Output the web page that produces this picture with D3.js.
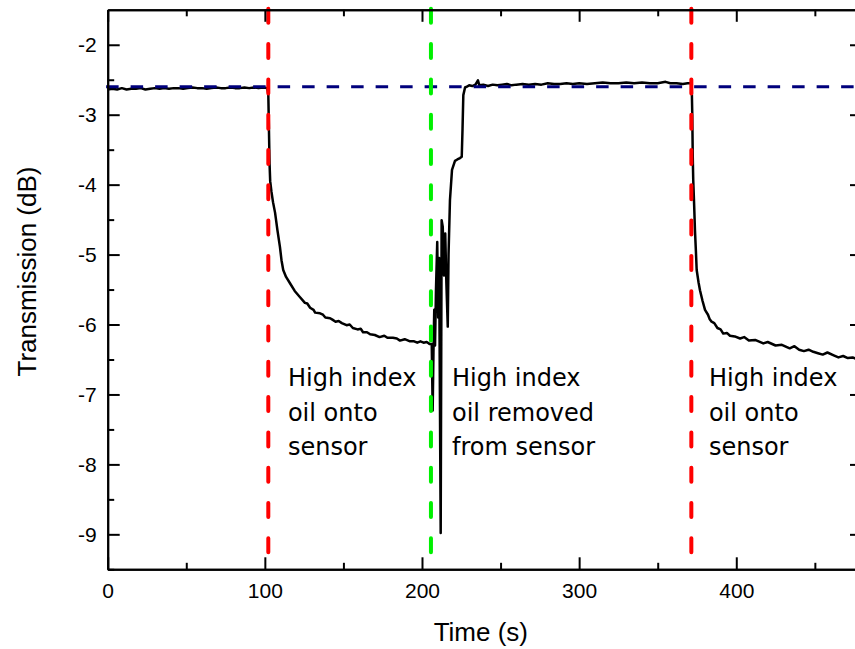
<!DOCTYPE html>
<html>
<head>
<meta charset="utf-8">
<script src="https://cdn.jsdelivr.net/npm/d3@7/dist/d3.min.js"></script>
<style>
  html, body { margin: 0; padding: 0; background: #fff; }
  svg { display: block; overflow: hidden; }
  .tick text { font-family: "Liberation Sans", Arial, sans-serif; font-size: 21px; fill: #000; }
</style>
</head>
<body>
<svg id="chart" width="855" height="649"></svg>
<script>
// Transmission trace (time in s, transmission in dB)
const timeS = [
  0, 3, 6, 9, 12, 15, 18, 21, 24, 27, 30, 33, 36, 39, 42, 45, 48, 51, 54, 57, 60, 63, 66, 69, 72, 75, 78, 81, 84, 87, 90, 93, 96, 99, 101.5,
  102.2, 102.6, 103.0, 103.4, 104.2, 105.2, 106.5, 108.0, 109.6, 110.6, 111.7, 113.5, 116, 119, 122.4, 125.5, 127, 128.8, 131, 132, 135.1, 137, 138.5, 141.5, 143, 145, 147, 149, 152, 154, 156, 159, 161, 162.5, 165, 167, 170, 173, 176, 178, 181.5, 184, 186, 189, 192.4, 195, 197, 199, 201, 203, 205, 206.2,
  206.8, 207.3, 207.8, 208.3, 208.9, 209.7, 210.3, 210.9, 211.9, 212.5, 213.2, 214.0, 214.8, 215.5, 216.4, 216.9, 217.8, 219.1, 221.0, 222.5, 224.2, 225.3, 225.8, 226.3, 227.4,
  228.5, 230, 232, 234, 235.6, 236.5, 239, 242, 245, 248, 251, 254, 257, 260, 264, 268, 272, 276, 280, 284, 288, 292, 296, 300, 305, 310, 315, 320, 325, 330, 335, 340, 345, 350, 355, 358, 362, 366, 369, 371.6,
  372.0, 372.3, 372.6, 373.2, 373.7, 374.3, 374.8, 376, 376.9, 378.5, 380.1, 382, 383, 384.3, 386, 388, 390, 391.7, 394, 396, 399, 402.4, 405, 408, 412, 417.2, 420, 425, 429, 434, 437, 440, 443, 446, 449, 452, 455, 458, 462, 465, 468, 471, 474, 477, 480
];
const transDb = [
  -2.64, -2.63, -2.64, -2.62, -2.64, -2.63, -2.63, -2.62, -2.64, -2.63, -2.62, -2.63, -2.62, -2.63, -2.62, -2.62, -2.63, -2.62, -2.61, -2.62, -2.62, -2.63, -2.62, -2.61, -2.62, -2.62, -2.61, -2.62, -2.62, -2.61, -2.62, -2.61, -2.62, -2.61, -2.62,
  -2.70, -3.20, -3.70, -3.95, -4.10, -4.25, -4.40, -4.65, -4.89, -5.08, -5.22, -5.32, -5.41, -5.52, -5.61, -5.69, -5.70, -5.76, -5.79, -5.83, -5.84, -5.86, -5.90, -5.91, -5.93, -5.96, -5.95, -5.98, -6.01, -6.00, -6.05, -6.07, -6.06, -6.11, -6.11, -6.14, -6.15, -6.18, -6.16, -6.19, -6.19, -6.20, -6.23, -6.21, -6.24, -6.24, -6.26, -6.24, -6.26, -6.25, -6.28, -6.28,
  -7.23, -6.40, -5.79, -6.30, -5.50, -4.82, -5.90, -5.05, -8.98, -4.51, -4.60, -5.30, -4.70, -5.40, -6.03, -5.00, -4.22, -3.79, -3.66, -3.64, -3.62, -3.60, -3.20, -2.72, -2.61,
  -2.60, -2.58, -2.59, -2.57, -2.51, -2.58, -2.57, -2.59, -2.57, -2.58, -2.57, -2.56, -2.58, -2.57, -2.56, -2.57, -2.56, -2.57, -2.55, -2.56, -2.56, -2.55, -2.56, -2.55, -2.56, -2.55, -2.54, -2.55, -2.55, -2.54, -2.55, -2.54, -2.55, -2.55, -2.53, -2.55, -2.55, -2.56, -2.55, -2.55,
  -3.00, -3.60, -3.93, -4.30, -4.65, -4.95, -5.22, -5.40, -5.51, -5.66, -5.79, -5.86, -5.92, -5.96, -5.98, -6.05, -6.07, -6.13, -6.12, -6.16, -6.17, -6.20, -6.18, -6.23, -6.22, -6.27, -6.25, -6.30, -6.29, -6.34, -6.31, -6.36, -6.38, -6.36, -6.39, -6.41, -6.43, -6.40, -6.44, -6.47, -6.45, -6.48, -6.47, -6.50, -6.49
];

// Event markers (s) and reference level (dB)
const oilOnTimes = [102.2, 371.4];
const oilOffTimes = [205.7];
const referenceLevel = -2.6;

// Axis ticks
const xTicks = [0, 100, 200, 300, 400];
const xMinorTicks = [50, 150, 250, 350, 450];
const yTicks = [-2, -3, -4, -5, -6, -7, -8, -9];
const yMinorTicks = [-2.5, -3.5, -4.5, -5.5, -6.5, -7.5, -8.5, -9.5];

// Annotations: x in s, first baseline in dB
const noteX = [114.7, 219.1, 382.6];
const noteLines = [
  ["High index", "oil onto", "sensor"],
  ["High index", "oil removed", "from sensor"],
  ["High index", "oil onto", "sensor"]
];
const noteBaseline = -6.88;

const svg = d3.select("#chart");
const plotLeft = 107.7, plotTop = 9.8, plotW = 754.3, plotH = 559.5;

const x = d3.scaleLinear().domain([0, 480]).range([plotLeft, plotLeft + plotW]);
const y = d3.scaleLinear().domain([-9.5, -1.5]).range([plotTop + plotH, plotTop]);

// data trace
const pts = timeS.map((t, i) => [t, transDb[i]]);
svg.append("path")
  .datum(pts)
  .attr("fill", "none")
  .attr("stroke", "#000")
  .attr("stroke-width", 2.5)
  .attr("stroke-linejoin", "round")
  .attr("d", d3.line().x(d => x(d[0])).y(d => y(d[1])));

// reference level
svg.append("line")
  .attr("x1", x(-1)).attr("x2", x(480))
  .attr("y1", y(referenceLevel)).attr("y2", y(referenceLevel))
  .attr("stroke", "#00007c")
  .attr("stroke-width", 3)
  .attr("stroke-dasharray", "12.5 12");

// event markers
function marker(t, color) {
  svg.append("line")
    .attr("x1", x(t)).attr("x2", x(t))
    .attr("y1", y(-1.5) - 1).attr("y2", y(-9.5))
    .attr("stroke", color)
    .attr("stroke-width", 4)
    .attr("stroke-linecap", "round")
    .attr("stroke-dasharray", "14 21.3");
}
oilOnTimes.forEach(t => marker(t, "#ff0000"));
oilOffTimes.forEach(t => marker(t, "#00f000"));

// axes with inward ticks
function styleAxis(g) {
  g.selectAll(".domain").attr("stroke", "#000").attr("stroke-width", 2);
  g.selectAll(".tick line").attr("stroke", "#000").attr("stroke-width", 2);
}
const major = 12, minor = 6.5;

svg.append("g").attr("transform", `translate(0,${y(-9.5)})`)
  .call(d3.axisBottom(x).tickValues(xTicks).tickSizeInner(-major).tickSizeOuter(0).tickPadding(14).tickFormat(d3.format("d")))
  .call(styleAxis);
svg.append("g").attr("transform", `translate(0,${y(-9.5)})`)
  .call(d3.axisBottom(x).tickValues(xMinorTicks).tickSizeInner(-minor).tickSizeOuter(0).tickFormat(""))
  .call(styleAxis);
svg.append("g").attr("transform", `translate(0,${y(-1.5)})`)
  .call(d3.axisTop(x).tickValues(xTicks).tickSizeInner(-major).tickSizeOuter(0).tickFormat(""))
  .call(styleAxis);
svg.append("g").attr("transform", `translate(0,${y(-1.5)})`)
  .call(d3.axisTop(x).tickValues(xMinorTicks).tickSizeInner(-minor).tickSizeOuter(0).tickFormat(""))
  .call(styleAxis);

svg.append("g").attr("transform", `translate(${x(0)},0)`)
  .call(d3.axisLeft(y).tickValues(yTicks).tickSizeInner(-major).tickSizeOuter(0).tickPadding(11).tickFormat(d3.format("d")))
  .call(styleAxis);
svg.append("g").attr("transform", `translate(${x(0)},0)`)
  .call(d3.axisLeft(y).tickValues(yMinorTicks).tickSizeInner(-minor).tickSizeOuter(0).tickFormat(""))
  .call(styleAxis);
svg.append("g").attr("transform", `translate(${x(480)},0)`)
  .call(d3.axisRight(y).tickValues(yTicks).tickSizeInner(-major).tickSizeOuter(0).tickFormat(""))
  .call(styleAxis);
svg.append("g").attr("transform", `translate(${x(480)},0)`)
  .call(d3.axisRight(y).tickValues(yMinorTicks).tickSizeInner(-minor).tickSizeOuter(0).tickFormat(""))
  .call(styleAxis);

// plain hyphen for negative labels
svg.selectAll(".tick text").text(function () { return d3.select(this).text().replace("\u2212", "-"); });

// axis titles
svg.append("text")
  .attr("x", x(240) - 4).attr("y", 641)
  .attr("text-anchor", "middle")
  .attr("font-family", "Liberation Sans, Arial, sans-serif")
  .attr("font-size", 26)
  .text("Time (s)");
svg.append("text")
  .attr("transform", `translate(36,${y(-5.5) - 18}) rotate(-90)`)
  .attr("text-anchor", "middle")
  .attr("font-family", "Liberation Sans, Arial, sans-serif")
  .attr("font-size", 26)
  .text("Transmission (dB)");

// annotations
noteX.forEach((t, i) => {
  const txt = svg.append("text")
    .attr("font-family", "DejaVu Sans, Verdana, sans-serif")
    .attr("font-size", 24)
    .attr("x", x(t)).attr("y", y(noteBaseline));
  noteLines[i].forEach((line, j) => {
    txt.append("tspan").attr("x", x(t)).attr("dy", j === 0 ? 0 : 34.5).text(line);
  });
});
</script>
</body>
</html>
